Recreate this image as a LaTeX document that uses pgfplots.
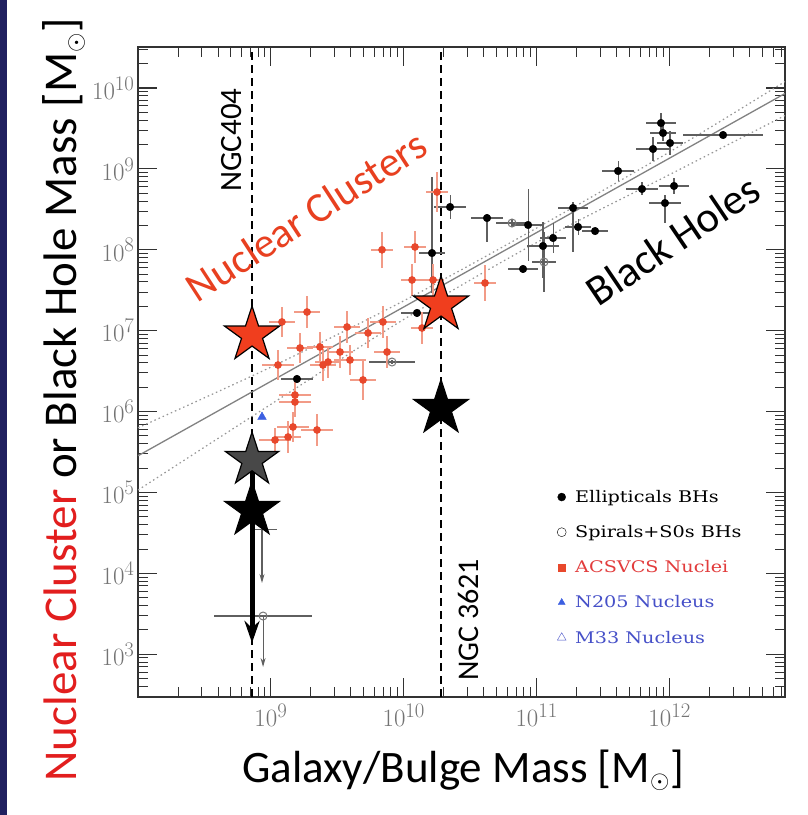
\documentclass[border=0pt]{standalone}
\usepackage{pgfplots}
\usepackage{pgfplotstable}
\pgfplotsset{compat=1.18}
\usepackage{fontspec}
\setmainfont{Carlito}
\newfontfamily\legfont[FakeStretch=1.2]{DejaVu Serif}
\usetikzlibrary{arrows.meta}

\definecolor{ptred}{RGB}{232,72,44}
\definecolor{errpink}{RGB}{242,155,135}
\definecolor{starred}{RGB}{240,62,30}
\definecolor{ncred}{RGB}{232,64,32}
\definecolor{ylred}{RGB}{226,30,30}
\definecolor{tickgray}{RGB}{115,115,115}
\definecolor{axisgray}{RGB}{50,50,50}
\definecolor{errgray}{RGB}{95,95,95}
\definecolor{opengray}{RGB}{120,120,120}
\definecolor{stargray}{RGB}{72,72,72}
\definecolor{triblue}{RGB}{60,95,225}
\definecolor{legred}{RGB}{226,60,60}
\definecolor{legblue}{RGB}{70,80,200}
\definecolor{navy}{RGB}{32,32,95}
\definecolor{fitgray}{RGB}{130,130,130}
\definecolor{dotgray}{RGB}{150,150,150}

% filled five-pointed star
\pgfdeclareplotmark{fstar}{%
  \pgfpathmoveto{\pgfpointpolar{90}{\pgfplotmarksize}}%
  \pgfpathlineto{\pgfpointpolar{126}{0.382\pgfplotmarksize}}%
  \pgfpathlineto{\pgfpointpolar{162}{\pgfplotmarksize}}%
  \pgfpathlineto{\pgfpointpolar{198}{0.382\pgfplotmarksize}}%
  \pgfpathlineto{\pgfpointpolar{234}{\pgfplotmarksize}}%
  \pgfpathlineto{\pgfpointpolar{270}{0.382\pgfplotmarksize}}%
  \pgfpathlineto{\pgfpointpolar{306}{\pgfplotmarksize}}%
  \pgfpathlineto{\pgfpointpolar{342}{0.382\pgfplotmarksize}}%
  \pgfpathlineto{\pgfpointpolar{18}{\pgfplotmarksize}}%
  \pgfpathlineto{\pgfpointpolar{54}{0.382\pgfplotmarksize}}%
  \pgfpathclose
  \pgfusepathqfillstroke
}

% log10 masses and errors (dex)
\pgfplotstableread{
lx ly ex ey
9.083 7.108 0.10 0.18
9.272 7.231 0.10 0.20
9.573 7.046 0.10 0.20
9.843 7.108 0.10 0.20
9.731 6.972 0.10 0.18
9.874 6.737 0.10 0.20
9.219 6.786 0.10 0.18
9.369 6.799 0.10 0.18
9.520 6.737 0.10 0.20
9.053 6.576 0.12 0.18
9.392 6.576 0.10 0.20
9.430 6.613 0.10 0.20
9.595 6.638 0.12 0.18
9.693 6.391 0.10 0.25
9.181 6.205 0.12 0.18
9.181 6.119 0.12 0.18
9.166 5.810 0.12 0.18
9.347 5.773 0.12 0.20
9.129 5.686 0.10 0.20
9.031 5.649 0.12 0.15
10.137 7.033 0.08 0.20
9.836 8.000 0.08 0.22
10.084 8.035 0.08 0.20
10.250 8.714 0.08 0.25
10.062 7.627 0.08 0.20
10.220 7.627 0.08 0.20
10.611 7.590 0.08 0.22
}\nuclei

\pgfplotstableread{
lx ly ex eyp eym
10.099 7.219 0.12 0.05 0.05
9.196 6.403 0.12 0.05 0.05
10.348 8.529 0.12 0.15 0.15
10.212 7.960 0.10 0.94 0.50
10.626 8.393 0.12 0.05 0.30
10.935 8.307 0.11 0.45 0.45
11.273 8.517 0.11 0.08 0.55
11.311 8.282 0.10 0.10 0.10
11.439 8.232 0.10 0.05 0.05
11.047 8.047 0.12 0.30 0.40
11.123 8.146 0.10 0.18 0.18
10.897 7.763 0.11 0.05 0.05
11.612 8.974 0.12 0.12 0.12
11.792 8.752 0.12 0.08 0.08
11.965 8.578 0.12 0.10 0.25
12.033 8.789 0.11 0.10 0.10
11.875 9.246 0.13 0.15 0.15
11.935 9.567 0.11 0.12 0.12
11.950 9.444 0.10 0.10 0.10
12.003 9.320 0.10 0.15 0.15
12.402 9.419 0.30 0.05 0.05
}\ellipticals

\pgfplotstableread{
lx ly ex ey
10.814 8.331 0.12 0.05
11.055 7.849 0.09 0.37
9.911 6.613 0.17 0.03
8.941 3.473 0.37 0.00
}\spirals

% minor tick positions at 2..9 times each power of ten
\def\xminor{7.5}
\foreach \d in {8,...,12}{%
  \foreach \m in {0.30103,0.47712,0.60206,0.69897,0.77815,0.84510,0.90309,0.95424}{%
    \pgfmathsetmacro\t{\d+\m}%
    \xdef\xminor{\xminor,\t}%
  }%
}
\def\yminor{1.5}
\foreach \d in {2,...,10}{%
  \foreach \m in {0.30103,0.47712,0.60206,0.69897,0.77815,0.84510,0.90309,0.95424}{%
    \pgfmathsetmacro\t{\d+\m}%
    \xdef\yminor{\yminor,\t}%
  }%
}

\begin{document}
\begin{tikzpicture}
\useasboundingbox (0,0) rectangle (807pt,815pt);
\fill[white] (0,0) rectangle (807pt,815pt);
\fill[navy] (0,0) rectangle (7pt,815pt);

\begin{axis}[
  at={(138pt,118pt)}, anchor=south west,
  scale only axis, width=647pt, height=650pt,
  xmin=8, xmax=12.868, ymin=2.472, ymax=10.507,
  axis line style={line width=1.2pt, color=axisgray},
  xtick={9,10,11,12},
  xticklabels={$10^{9}$,$10^{10}$,$10^{11}$,$10^{12}$},
  ytick={3,4,5,6,7,8,9,10},
  yticklabels={$10^{3}$,$10^{4}$,$10^{5}$,$10^{6}$,$10^{7}$,$10^{8}$,$10^{9}$,$10^{10}$},
  minor xtick/.expanded=\xminor,
  minor ytick/.expanded=\yminor,
  major tick length=19pt, minor tick length=10pt,
  tick align=inside,
  major tick style={line width=1.1pt, color=axisgray},
  minor tick style={line width=1.0pt, color=axisgray},
  ticklabel style={font=\fontsize{28}{30}\selectfont, color=tickgray},
  xticklabel style={yshift=-4pt},
  legend cell align=left,
  legend style={at={(axis cs:11.13,5.08)}, anchor=north west, draw=none,
    fill=none, font=\legfont\fontsize{16}{18}\selectfont, row sep=17.5pt,
    column sep=7pt, nodes={inner xsep=2pt}},
]
\addlegendimage{only marks, mark=*, mark size=4pt, black}
\addlegendentry{Ellipticals BHs}
\addlegendimage{only marks, mark=o, mark size=4.5pt, black}
\addlegendentry{Spirals+S0s BHs}
\addlegendimage{only marks, mark=square*, mark size=3.4pt, ptred}
\addlegendentry{\textcolor{legred}{ACSVCS Nuclei}}
\addlegendimage{only marks, mark=triangle*, mark size=4pt, triblue}
\addlegendentry{\textcolor{legblue}{N205 Nucleus}}
\addlegendimage{only marks, mark=triangle, mark size=5pt, legblue}
\addlegendentry{\textcolor{legblue}{M33 Nucleus}}

% galaxy masses of NGC 404 and NGC 3621
\addplot[forget plot, black, line width=1.7pt, dash pattern=on 8pt off 5pt]
  coordinates {(8.858,2.472) (8.858,10.507)};
\addplot[forget plot, black, line width=1.7pt, dash pattern=on 8pt off 5pt]
  coordinates {(10.28,2.472) (10.28,10.507)};

% fit and its confidence band
\addplot[forget plot, fitgray, line width=1.3pt]
  coordinates {(8,5.454) (12.868,9.932)};
\addplot[forget plot, dotgray, line width=1.2pt, dash pattern=on 1.5pt off 3pt, smooth]
  coordinates {(8,5.80) (9,6.55) (10,7.37) (11,8.27) (12,9.21) (12.868,10.08)};
\addplot[forget plot, dotgray, line width=1.2pt, dash pattern=on 1.5pt off 3pt, smooth]
  coordinates {(8,5.03) (9,6.09) (10,7.14) (11,8.09) (12,8.93) (12.868,9.66)};

% black hole masses
\addplot[forget plot, only marks, mark=*, mark size=3.8pt, black,
  error bars/.cd, x dir=both, x explicit, y dir=both, y explicit, error mark=none,
  error bar style={line width=1.1pt, color=errgray}]
  table[x=lx, y=ly, x error=ex, y error plus=eyp, y error minus=eym] {\ellipticals};
\addplot[forget plot, only marks, mark=o, mark size=4pt, opengray, line width=1pt,
  error bars/.cd, x dir=both, x explicit, y dir=both, y explicit, error mark=none,
  error bar style={line width=1.1pt, color=errgray}]
  table[x=lx, y=ly, x error=ex, y error=ey] {\spirals};
% upper limits
\addplot[forget plot, errgray, line width=1.1pt]
  coordinates {(8.88,4.537) (9.045,4.537)};
\addplot[forget plot, errgray, line width=1.1pt, -{Stealth[length=9pt,width=5pt]}]
  coordinates {(8.933,4.537) (8.933,3.881)};
\addplot[forget plot, errgray, line width=1.1pt, -{Stealth[length=9pt,width=5pt]}]
  coordinates {(8.941,3.473) (8.941,2.843)};

% nuclei
\addplot[forget plot, only marks, mark=*, mark size=3.6pt, ptred,
  error bars/.cd, x dir=both, x explicit, y dir=both, y explicit, error mark=none,
  error bar style={line width=1.6pt, color=errpink}]
  table[x=lx, y=ly, x error=ex, y error=ey] {\nuclei};
\addplot[forget plot, only marks, mark=triangle*, mark size=5pt, triblue]
  coordinates {(8.933,5.933)};

% NGC 404 and NGC 3621
\addplot[forget plot, only marks, mark=fstar, mark size=29pt,
  mark options={fill=starred, draw=black, line width=1.2pt}]
  coordinates {(8.858,6.947) (10.28,7.318)};
\addplot[forget plot, only marks, mark=fstar, mark size=28pt,
  mark options={fill=stargray, draw=black, line width=1.2pt}]
  coordinates {(8.858,5.40)};
\addplot[forget plot, only marks, mark=fstar, mark size=29pt,
  mark options={fill=black, draw=black, line width=1pt}]
  coordinates {(10.28,6.04) (8.858,4.78)};
\addplot[forget plot, black, line width=5pt, -{Stealth[length=22pt,width=15pt]}]
  coordinates {(8.858,5.40) (8.858,3.14)};

\node[rotate=90, font=\fontsize{31}{33}\selectfont] at (axis cs:8.707,9.357) {NGC404};
\node[rotate=90, font=\fontsize{30}{32}\selectfont] at (axis cs:10.483,3.424) {NGC 3621};
\node[rotate=33, text=ncred, font=\fontsize{42}{44}\selectfont] at (axis cs:9.265,8.42) {Nuclear Clusters};
\node[rotate=34, font=\fontsize{43}{45}\selectfont] at (axis cs:12.025,8.12) {Black Holes};
\end{axis}

\node[font=\fontsize{45}{48}\selectfont] at (463pt,45pt) {Galaxy/Bulge Mass [M$_\odot$]};
\node[rotate=90, font=\fontsize{47}{50}\selectfont] at (64pt,415pt)
  {\textcolor{ylred}{Nuclear Cluster} or Black Hole Mass [M$_\odot$]};
\end{tikzpicture}
\end{document}
